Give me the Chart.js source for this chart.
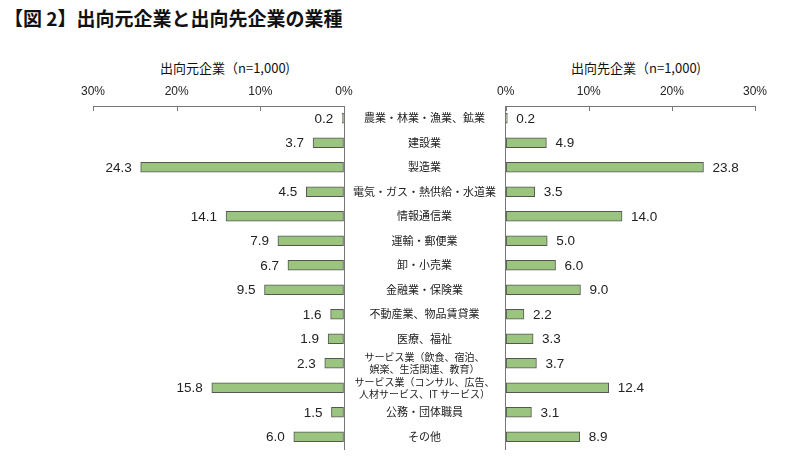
<!DOCTYPE html>
<html>
<head>
<meta charset="utf-8">
<script src="https://cdn.jsdelivr.net/npm/chart.js@4/dist/chart.umd.min.js"></script>
<style>
  body { margin: 0; background: #fff; }
  #wrap { position: relative; width: 800px; height: 460px; overflow: hidden; font-family: "Noto Sans CJK JP", sans-serif; color: #111; }
  .title { position: absolute; left: 4px; top: 4px; font-size: 19px; font-weight: bold; white-space: nowrap; }
  .sub { position: absolute; top: 58px; font-size: 13px; white-space: nowrap; transform: translateX(-50%); }
  canvas { position: absolute; top: 0; }
</style>
</head>
<body>
<div id="wrap">
  <div class="title">【図 2】出向元企業と出向先企業の業種</div>
  <div class="sub" style="left:225px">出向元企業（n=1,000)</div>
  <div class="sub" style="left:636px">出向先企業（n=1,000)</div>
  <div style="position:absolute;left:0;top:0;width:505px;height:460px"><canvas id="left"></canvas></div>
  <div style="position:absolute;left:490px;top:0;width:310px;height:460px"><canvas id="right"></canvas></div>
</div>
<script>
const categories = [
  '農業・林業・漁業、鉱業',
  '建設業',
  '製造業',
  '電気・ガス・熱供給・水道業',
  '情報通信業',
  '運輸・郵便業',
  '卸・小売業',
  '金融業・保険業',
  '不動産業、物品賃貸業',
  '医療、福祉',
  ['サービス業（飲食、宿泊、', '娯楽、生活関連、教育）'],
  ['サービス業（コンサル、広告、', '人材サービス、IT サービス）'],
  '公務・団体職員',
  'その他'
];
const sourceShare = [0.2, 3.7, 24.3, 4.5, 14.1, 7.9, 6.7, 9.5, 1.6, 1.9, 2.3, 15.8, 1.5, 6.0];
const destShare = [0.2, 4.9, 23.8, 3.5, 14.0, 5.0, 6.0, 9.0, 2.2, 3.3, 3.7, 12.4, 3.1, 8.9];
const tickValues = [0, 10, 20, 30];

const barFill = '#9bc57f';
const barEdge = '#555555';
const axisColor = '#777777';
const numFont = '"Liberation Sans", Arial, sans-serif';
const jpFont = '"Noto Sans CJK JP", sans-serif';

// value labels next to each bar
const valueLabels = {
  id: 'valueLabels',
  afterDatasetsDraw(chart) {
    const ctx = chart.ctx;
    const reversed = chart.options.scales.x.reverse;
    const meta = chart.getDatasetMeta(0);
    ctx.save();
    ctx.font = '13.5px ' + numFont;
    ctx.fillStyle = '#222';
    ctx.textBaseline = 'middle';
    ctx.textAlign = reversed ? 'right' : 'left';
    meta.data.forEach((bar, i) => {
      const v = chart.data.datasets[0].data[i];
      const x = reversed ? bar.x - 9 : bar.x + 9;
      ctx.fillText(v.toFixed(1), x, bar.y + 1);
    });
    ctx.restore();
  }
};

// small tick marks pointing down from the top axis line
const innerTicks = {
  id: 'innerTicks',
  afterDraw(chart) {
    const ctx = chart.ctx;
    const xs = chart.scales.x;
    const top = chart.chartArea.top;
    ctx.save();
    ctx.strokeStyle = axisColor;
    ctx.lineWidth = 1;
    tickValues.forEach(t => {
      const px = Math.round(xs.getPixelForValue(t)) + 0.5;
      ctx.beginPath();
      ctx.moveTo(px, top);
      ctx.lineTo(px, top + 5);
      ctx.stroke();
    });
    ctx.restore();
  }
};

function makeChart(id, values, isLeft) {
  return new Chart(document.getElementById(id), {
    type: 'bar',
    data: {
      labels: categories,
      datasets: [{
        data: values,
        backgroundColor: barFill,
        borderColor: barEdge,
        borderWidth: 1,
        borderSkipped: false,
        barThickness: 10
      }]
    },
    options: {
      indexAxis: 'y',
      responsive: true,
      maintainAspectRatio: false,
      animation: false,
      layout: {
        padding: isLeft
          ? { left: 93, right: 0, top: 80, bottom: 11 }
          : { left: 15, right: 45, top: 80, bottom: 11 }
      },
      plugins: { legend: { display: false }, tooltip: { enabled: false } },
      scales: {
        x: {
          position: 'top',
          min: 0, max: 30,
          reverse: isLeft,
          afterBuildTicks(scale) { scale.ticks = tickValues.map(v => ({ value: v })); },
          afterFit(scale) { scale.height = 26; },
          grid: { drawOnChartArea: false, drawTicks: false },
          border: { display: true, color: axisColor, width: 1 },
          ticks: {
            padding: 7,
            color: '#222',
            font: { family: numFont, size: 12 },
            maxRotation: 0,
            callback: v => v + '%'
          }
        },
        y: {
          position: isLeft ? 'right' : 'left',
          afterFit(scale) {
            scale.width = isLeft ? 161 : 0;
            scale.paddingTop = 0;
            scale.paddingBottom = 0;
          },
          grid: { drawOnChartArea: false, drawTicks: false },
          border: { display: true, color: axisColor, width: 1 },
          ticks: {
            display: isLeft,
            crossAlign: 'center',
            padding: 9,
            color: '#222',
            autoSkip: false,
            font: c => Array.isArray(categories[c.index])
              ? { family: jpFont, size: 10, lineHeight: 1.2 }
              : { family: jpFont, size: 11, lineHeight: 1.2 }
          }
        }
      }
    },
    plugins: [valueLabels, innerTicks]
  });
}

makeChart('left', sourceShare, true);
makeChart('right', destShare, false);
</script>
</body>
</html>
